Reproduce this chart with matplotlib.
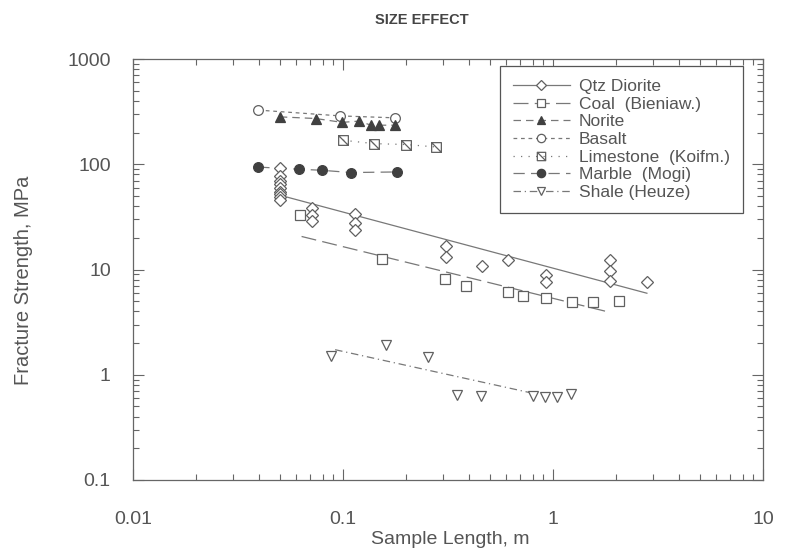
import numpy as np
import matplotlib.pyplot as plt
from matplotlib.path import Path
from matplotlib.lines import Line2D

plt.rcParams['font.family'] = ['Liberation Sans', 'DejaVu Sans']

# Qtz Diorite (points + least-squares fit line)
dio_x = [0.05, 0.05, 0.05, 0.05, 0.05, 0.05, 0.05, 0.05, 0.05,
         0.071, 0.071, 0.071, 0.114, 0.114, 0.114,
         0.31, 0.31, 0.46, 0.61, 0.93, 0.93, 1.87, 1.87, 1.87, 2.79]
dio_y = [92, 78, 70, 65, 59, 55, 52, 48.5, 45.5,
         38.7, 32.7, 28.8, 33.4, 27.6, 23.9,
         16.9, 13.1, 10.7, 12.4, 8.8, 7.6, 12.4, 9.6, 7.7, 7.6]
dio_fit_x = [0.054, 2.8]
dio_fit_y = [48.8, 5.95]

# Coal (Bieniawski)
coal_x = [0.0624, 0.153, 0.306, 0.386, 0.608, 0.723, 0.93, 1.23, 1.55, 2.07]
coal_y = [32.7, 12.6, 8.1, 6.9, 6.1, 5.65, 5.4, 4.9, 4.9, 5.0]
coal_fit_x = [0.0635, 1.79]
coal_fit_y = [20.6, 4.0]

# Norite
norite_x = [0.050, 0.074, 0.099, 0.119, 0.136, 0.149, 0.177]
norite_y = [282, 272, 250, 257, 235, 235, 235]

# Basalt
basalt_x = [0.0395, 0.097, 0.177]
basalt_y = [327, 288, 276]

# Limestone (Koifman)
lime_x = [0.100, 0.141, 0.199, 0.277]
lime_y = [169, 157, 154, 146]

# Marble (Mogi)
marble_x = [0.0395, 0.062, 0.079, 0.109, 0.180]
marble_y = [94, 89.6, 87.7, 83.4, 84.5]

# Shale (Heuze)
shale_x = [0.0873, 0.160, 0.253, 0.35, 0.454, 0.80, 0.918, 1.05, 1.22]
shale_y = [1.52, 1.93, 1.49, 0.645, 0.63, 0.625, 0.61, 0.61, 0.655]
shale_fit_x = [0.0917, 0.835]
shale_fit_y = [1.73, 0.655]

xticks = [0.01, 0.1, 1, 10]
xtick_labels = ['0.01', '0.1', '1', '10']
yticks = [0.1, 1, 10, 100, 1000]
ytick_labels = ['0.1', '1', '10', '100', '1000']

# square with a diagonal slash for the limestone marker
box_slash = Path([(-1, -1), (1, -1), (1, 1), (-1, 1), (-1, -1), (-1, 1), (1, -1)],
                 [Path.MOVETO, Path.LINETO, Path.LINETO, Path.LINETO, Path.CLOSEPOLY,
                  Path.MOVETO, Path.LINETO])

lc = '#787878'
mc = '#606060'
tc = '#555555'
lw = 0.9

styles = {
    'dio':    dict(ls='-', marker='D', ms=6, mfc='white', mec=mc),
    'coal':   dict(ls=(0, (12, 5)), marker='s', ms=7, mfc='white', mec=mc),
    'norite': dict(ls=(0, (6, 4)), marker='^', ms=7, mfc='#404040', mec='#404040'),
    'basalt': dict(ls=(0, (3, 3)), marker='o', ms=7, mfc='white', mec=mc),
    'lime':   dict(ls=(0, (1, 5)), marker=box_slash, ms=7, mfc='none', mec=mc),
    'marble': dict(ls=(0, (9, 5)), marker='o', ms=7, mfc='#404040', mec='#404040'),
    'shale':  dict(ls=(0, (6, 3, 1, 3)), marker='v', ms=7, mfc='white', mec=mc),
}

fig = plt.figure(figsize=(7.88, 5.51), dpi=100)
ax = fig.add_axes([133 / 788, 1 - 480 / 551, 630 / 788, 421 / 551])
ax.set_xscale('log')
ax.set_yscale('log')
ax.set_xlim(0.01, 10)
ax.set_ylim(0.1, 1000)

def fit_line(x, y, key):
    ax.plot(x, y, color=lc, lw=lw, ls=styles[key]['ls'], zorder=2)

def points(x, y, key, connect=False):
    s = styles[key]
    if connect:
        ax.plot(x, y, color=lc, lw=lw, ls=s['ls'], zorder=2)
    ax.plot(x, y, ls='none', marker=s['marker'], ms=s['ms'], mfc=s['mfc'],
            mec=s['mec'], mew=0.9, zorder=3)

fit_line(dio_fit_x, dio_fit_y, 'dio')
fit_line(coal_fit_x, coal_fit_y, 'coal')
fit_line(shale_fit_x, shale_fit_y, 'shale')
points(basalt_x, basalt_y, 'basalt', connect=True)
points(norite_x, norite_y, 'norite', connect=True)
points(lime_x, lime_y, 'lime', connect=True)
points(marble_x, marble_y, 'marble', connect=True)
points(coal_x, coal_y, 'coal')
points(dio_x, dio_y, 'dio')
points(shale_x, shale_y, 'shale')

ax.set_xticks(xticks, labels=xtick_labels)
ax.set_yticks(yticks, labels=ytick_labels)
ax.xaxis.set_minor_formatter(plt.NullFormatter())
ax.yaxis.set_minor_formatter(plt.NullFormatter())
ax.tick_params(which='both', direction='in', top=True, right=True,
               color='#666666', width=0.8)
ax.tick_params(which='major', length=8, labelsize=14, labelcolor=tc)
ax.tick_params(which='minor', length=4)
ax.tick_params(axis='x', which='major', pad=22)
ax.tick_params(axis='y', which='major', pad=16)
for sp in ax.spines.values():
    sp.set_color('#666666')
    sp.set_linewidth(0.9)

# axis titles and heading placed in figure pixels
fig.text(450 / 788, 1 - 540 / 551, 'Sample Length, m', ha='center', va='center',
         fontsize=14, color=tc)
fig.text(24 / 788, 1 - 280 / 551, 'Fracture Strength, MPa', ha='center', va='center',
         rotation=90, fontsize=14.5, color=tc)
fig.text(422 / 788, 1 - 20 / 551, 'SIZE EFFECT', ha='center', va='center',
         fontsize=10.5, fontweight='bold', color='#444444')

names = ['Qtz Diorite', 'Coal  (Bieniaw.)', 'Norite', 'Basalt',
         'Limestone  (Koifm.)', 'Marble  (Mogi)', 'Shale (Heuze)']
keys = ['dio', 'coal', 'norite', 'basalt', 'lime', 'marble', 'shale']
handles = []
for k in keys:
    s = styles[k]
    handles.append(Line2D([], [], color=lc, lw=lw, ls=s['ls'], marker=s['marker'],
                          ms=s['ms'] - 1, mfc=s['mfc'], mec=s['mec'], mew=0.9))
leg = ax.legend(handles, names, loc='upper right', bbox_to_anchor=(0.968, 0.983),
                borderaxespad=0, fontsize=12.5, handlelength=3.3, handletextpad=0.5,
                labelspacing=0.14, fancybox=False, framealpha=1, borderpad=0.75,
                edgecolor='#555555')
leg.get_frame().set_linewidth(0.9)
for t in leg.get_texts():
    t.set_color(tc)

fig.savefig('out.png', dpi=100)
